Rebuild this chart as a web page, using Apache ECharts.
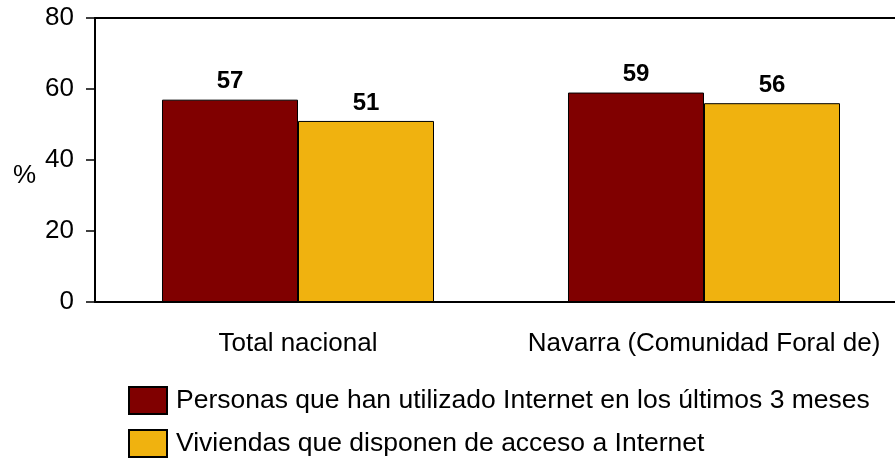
<!DOCTYPE html>
<html>
<head>
<meta charset="utf-8">
<script src="https://cdn.jsdelivr.net/npm/echarts@6/dist/echarts.min.js"></script>
<style>
  html, body { margin: 0; padding: 0; background: #fff; overflow: hidden; }
</style>
</head>
<body>
<!-- el grafico continua a la derecha, fuera de la ventana -->
<div id="main" style="width:908px;height:459px;"></div>
<script>
// datos
var categories = ["Total nacional", "Navarra (Comunidad Foral de)"];
var personas = [57, 59];
var viviendas = [51, 56];
var seriesNames = [
  "Personas que han utilizado Internet en los últimos 3 meses",
  "Viviendas que disponen de acceso a Internet"
];
var unidad = "%";

var myChart = echarts.init(document.getElementById("main"));
var font = "Liberation Sans, Arial, sans-serif";

var labelStyle = {
  show: true,
  position: "top",
  distance: 6,
  color: "#000",
  fontWeight: "bold",
  fontSize: 24,
  fontFamily: font
};

var legendText = { fontSize: 26.5, color: "#000", fontFamily: font, padding: [0, 0, 0, 4] };

var option = {
  animation: false,
  grid: {
    left: 95,
    right: 1,
    top: 18,
    bottom: 157
  },
  graphic: [
    {
      type: "text",
      left: 13,
      top: 163,
      style: { text: unidad, fontSize: 26, fill: "#000", fontFamily: font }
    }
  ],
  legend: [
    {
      left: 128,
      top: 386,
      padding: 0,
      itemWidth: 38,
      itemHeight: 27,
      icon: "rect",
      textStyle: legendText,
      data: [seriesNames[0]]
    },
    {
      left: 128,
      top: 429,
      padding: 0,
      itemWidth: 38,
      itemHeight: 27,
      icon: "rect",
      textStyle: legendText,
      data: [seriesNames[1]]
    }
  ],
  xAxis: [
    {
      type: "category",
      data: categories,
      axisLine: { lineStyle: { color: "#000", width: 2 } },
      axisTick: { show: false },
      axisLabel: { interval: 0, color: "#000", fontSize: 26, fontFamily: font, margin: 29 }
    },
    {
      // linea superior del marco
      type: "category",
      position: "top",
      data: categories,
      axisLine: { show: true, lineStyle: { color: "#000", width: 2 } },
      axisTick: { show: false },
      axisLabel: { show: false }
    }
  ],
  yAxis: {
    type: "value",
    min: 0,
    max: 80,
    interval: 20,
    axisLine: { show: true, lineStyle: { color: "#000", width: 2 } },
    axisTick: { show: true, length: 9, lineStyle: { color: "#000", width: 1.5 } },
    axisLabel: { color: "#000", fontSize: 26, fontFamily: font, margin: 21 },
    splitLine: { show: false }
  },
  series: [
    {
      name: seriesNames[0],
      type: "bar",
      data: personas,
      barGap: "0%",
      barCategoryGap: "33%",
      itemStyle: { color: "#800000", borderColor: "#000", borderWidth: 1 },
      label: labelStyle
    },
    {
      name: seriesNames[1],
      type: "bar",
      data: viviendas,
      barGap: "0%",
      barCategoryGap: "33%",
      itemStyle: { color: "#f0b20f", borderColor: "#000", borderWidth: 1 },
      label: labelStyle
    }
  ]
};

myChart.setOption(option);
</script>
</body>
</html>
